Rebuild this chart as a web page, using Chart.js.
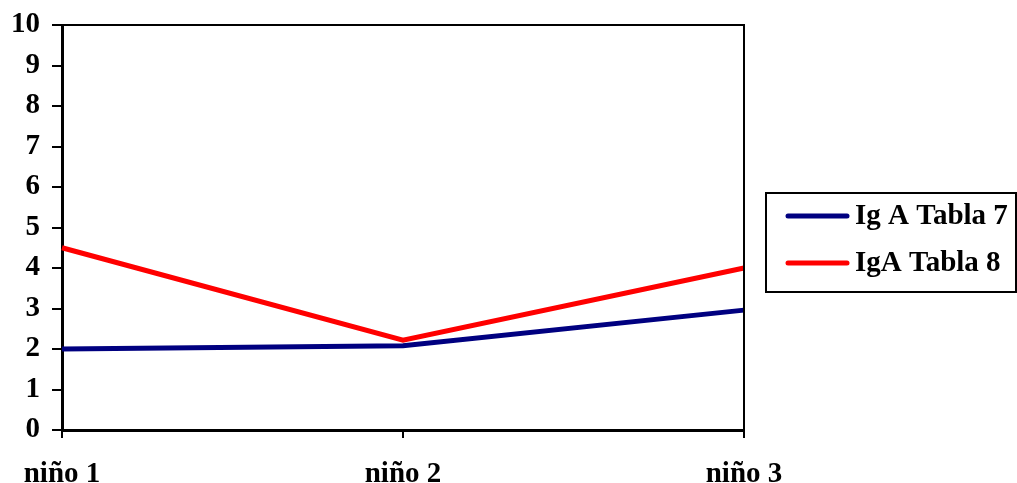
<!DOCTYPE html>
<html><head><meta charset="utf-8">
<script src="https://cdn.jsdelivr.net/npm/chart.js@4/dist/chart.umd.min.js"></script>
<style>html,body{margin:0;padding:0;background:#fff}#wrap{width:1017px;height:483px}</style>
</head><body><div id="wrap"><canvas id="c" width="1017" height="483"></canvas></div>
<script>
const categories = ["niño 1", "niño 2", "niño 3"];
const seriesNames = ["Ig A Tabla 7", "IgA Tabla 8"];
const igATabla7 = [2.0, 2.08, 2.96];
const igATabla8 = [4.5, 2.22, 4.0];
const yTicks = [0,1,2,3,4,5,6,7,8,9,10];

const FONT = {family: "'Liberation Serif','Times New Roman',serif", weight: 'bold', size: 29};

const framePlugin = {
  id: 'frame',
  afterDraw(chart) {
    const ctx = chart.ctx, a = chart.chartArea;
    ctx.save();
    ctx.strokeStyle = '#000';
    ctx.lineWidth = 2;
    ctx.beginPath();
    ctx.moveTo(a.left, a.top); ctx.lineTo(a.right, a.top); ctx.lineTo(a.right, a.bottom);
    ctx.stroke();
    // legend
    const lx = 766, ly = 193, lw = 250, lh = 99;
    ctx.lineWidth = 2;
    ctx.strokeRect(lx, ly, lw, lh);
    ctx.font = 'bold 29px ' + FONT.family;
    ctx.textBaseline = 'middle';
    ctx.fillStyle = '#000';
    const rows = [216, 263];
    chart.data.datasets.forEach((ds, i) => {
      ctx.strokeStyle = ds.borderColor;
      ctx.lineWidth = 5;
      ctx.lineCap = 'round';
      ctx.beginPath(); ctx.moveTo(788, rows[i]); ctx.lineTo(847, rows[i]); ctx.stroke();
      ctx.fillText(ds.label, 855, rows[i] + 1);
    });
    ctx.restore();
  }
};

new Chart(document.getElementById('c'), {
  type: 'line',
  data: {
    labels: categories,
    datasets: [
      {label: seriesNames[0], data: igATabla7, borderColor: '#000080', borderWidth: 5, pointRadius: 0, tension: 0},
      {label: seriesNames[1], data: igATabla8, borderColor: '#FF0000', borderWidth: 5, pointRadius: 0, tension: 0}
    ]
  },
  options: {
    responsive: false,
    animation: false,
    events: [],
    layout: {padding: {top: 25, right: 273, left: 0, bottom: 0}},
    plugins: {legend: {display: false}, tooltip: {enabled: false}},
    scales: {
      x: {
        offset: false,
        grid: {display: true, drawOnChartArea: false, color: '#000', lineWidth: 2, tickLength: 8},
        border: {display: true, color: '#000', width: 3},
        ticks: {color: '#000', font: FONT, padding: 19, maxRotation: 0},
        afterFit(s) { s.height = 53; s.paddingLeft = 0; s.paddingRight = 0; }
      },
      y: {
        min: 0, max: 10,
        afterBuildTicks(s) { s.ticks = yTicks.map(v => ({value: v})); },
        grid: {display: true, drawOnChartArea: false, color: '#000', lineWidth: 2, tickLength: 10},
        border: {display: true, color: '#000', width: 3},
        ticks: {color: '#000', font: FONT, padding: 12},
        afterFit(s) { s.width = 62; s.paddingTop = 0; s.paddingBottom = 0; }
      }
    }
  },
  plugins: [framePlugin]
});
</script></body></html>
